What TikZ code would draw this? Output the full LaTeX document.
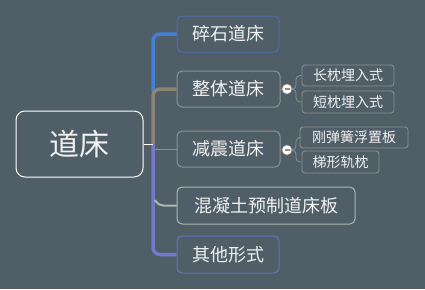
\documentclass[tikz,border=0pt]{standalone}
\usepackage{fontspec}
\usetikzlibrary{calc}
\newfontfamily\cjk{Noto Sans CJK SC}
\definecolor{bg}{RGB}{80,94,104}
\definecolor{txt}{RGB}{240,240,240}
\definecolor{bblue}{RGB}{66,128,214}
\definecolor{olive}{RGB}{138,132,112}
\definecolor{purp}{RGB}{118,118,204}
\definecolor{greyb}{RGB}{140,146,146}
\definecolor{lightb}{RGB}{176,184,176}
\definecolor{purpb}{RGB}{104,112,184}
\definecolor{blueb}{RGB}{78,108,176}
\begin{document}
\begin{tikzpicture}[x=1pt,y=-1pt,
  box/.style={draw, rectangle, rounded corners=5pt, line width=1pt, text=txt, font=\cjk\fontsize{18}{20}\selectfont, inner sep=0pt},
  sub/.style={draw=greyb, rectangle, rounded corners=3pt, line width=0.8pt, text=txt, font=\cjk\fontsize{14}{16}\selectfont, inner sep=0pt},
  knob/.style={circle, fill=white, draw=greyb, line width=0.5pt, minimum size=10pt, inner sep=0pt},
  trunk/.style={line width=3.5pt, rounded corners=7pt},
  twig/.style={draw=greyb, line width=0.8pt, rounded corners=4pt}]
\fill[bg] (0,0) rectangle (425,289);
\useasboundingbox (0,0) rectangle (425,289);

\node[box, draw=white, minimum width=127pt, minimum height=66pt, rounded corners=9pt, font=\cjk\fontsize{30}{32}\selectfont] (root) at (79.5,144) {道床};

\node[box, draw=blueb, minimum width=102pt, minimum height=36pt] (c1) at (228,34) {碎石道床};
\node[box, draw=greyb, minimum width=103pt, minimum height=36pt] (c2) at (228.5,89) {整体道床};
\node[box, draw=greyb, minimum width=103pt, minimum height=36pt] (c3) at (228.5,149) {减震道床};
\node[box, draw=lightb, minimum width=178pt, minimum height=37pt] (c4) at (266,205.5) {混凝土预制道床板};
\node[box, draw=purpb, minimum width=102pt, minimum height=37pt] (c5) at (228,254.5) {其他形式};

\node[sub, minimum width=92pt, minimum height=21pt] (g1) at (348,75.5) {长枕埋入式};
\node[sub, minimum width=92pt, minimum height=22pt] (g2) at (348,102) {短枕埋入式};
\node[sub, minimum width=108pt, minimum height=21pt] (g3) at (354,137.5) {刚弹簧浮置板};
\node[sub, minimum width=77pt, minimum height=22pt] (g4) at (340.5,162) {梯形轨枕};

\coordinate (t) at (153,144);
\coordinate (tb) at (153,92);

% trunk
\draw[bblue, trunk] (c1.west) -| (tb);
\draw[olive, trunk] (c2.west) -| (t);
\draw[purp, trunk] (t) |- (c5.west);
\draw[greyb, line width=1pt] (c3.west) -- (155,149);
\draw[lightb, line width=2pt, rounded corners=5pt] (c4.west) -- (158,205.5) -- (155,200);
\draw[white, line width=1pt] (root.east) -- (t);

% knobs
\node[knob] (k1) at (287,89) {};
\node[knob] (k2) at (287,150) {};
\draw[greyb, line width=1.2pt] ($(k1)+(-2.5,0)$) -- ($(k1)+(2.5,0)$);
\draw[greyb, line width=1.2pt] ($(k2)+(-2.5,0)$) -- ($(k2)+(2.5,0)$);
\draw[twig] (c2.east) -- (k1.west);
\draw[twig] (c3.east) -- (k2.west);
\draw[twig] (k1.east) -- (296,89) |- (g1.west);
\draw[twig] (k1.east) -- (296,89) |- (g2.west);
\draw[twig] (k2.east) -- (296,150) |- (g3.west);
\draw[twig] (k2.east) -- (296,150) |- (g4.west);
\end{tikzpicture}
\end{document}
